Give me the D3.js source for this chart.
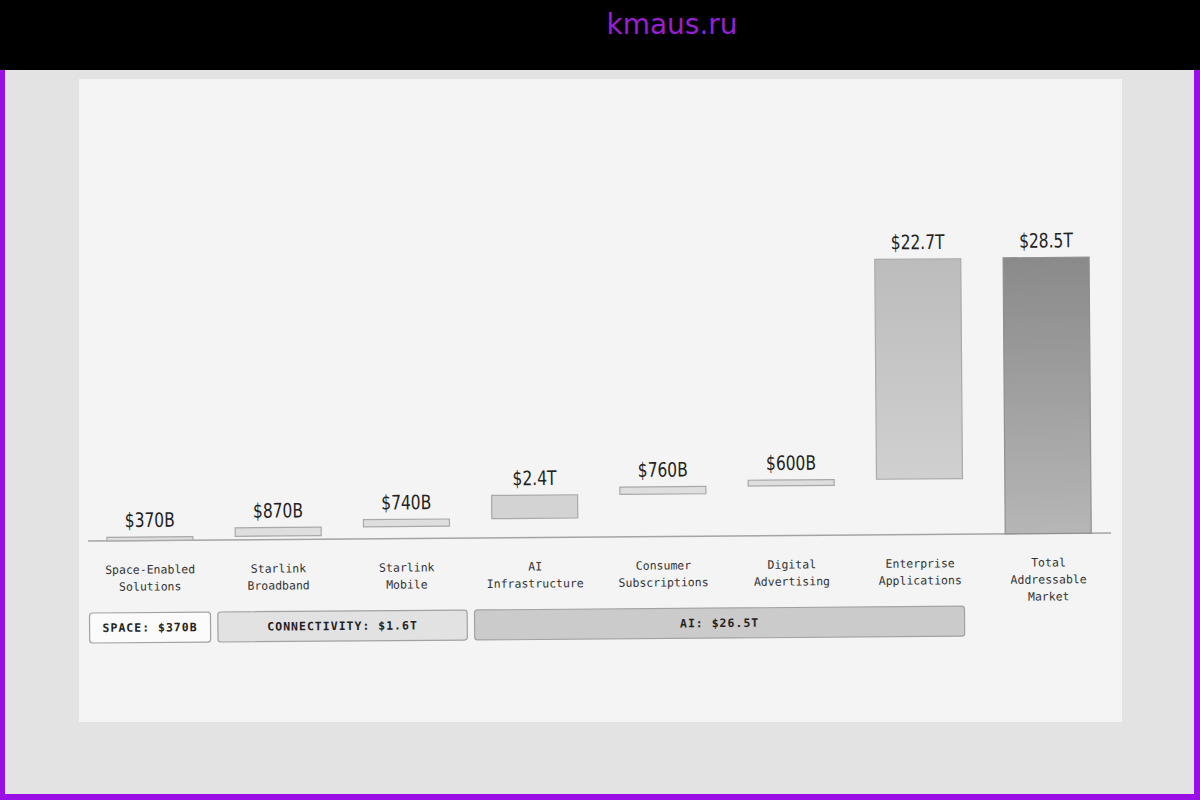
<!DOCTYPE html>
<html>
<head>
<meta charset="utf-8">
<script src="https://cdn.jsdelivr.net/npm/d3@7"></script>
<style>
html,body{margin:0;padding:0;background:#000;}
svg{display:block;}
</style>
</head>
<body>
<svg id="chart" width="1200" height="800"></svg>
<script>
// ---------- data ----------
const categories=[
    ["Space-Enabled","Solutions"],
    ["Starlink","Broadband"],
    ["Starlink","Mobile"],
    ["AI","Infrastructure"],
    ["Consumer","Subscriptions"],
    ["Digital","Advertising"],
    ["Enterprise","Applications"],
    ["Total","Addressable","Market"]
];
const values=[370,870,740,2400,760,600,22700,28500];   // $B
const valueLabels=["$370B","$870B","$740B","$2.4T","$760B","$600B","$22.7T","$28.5T"];
const groupNames=["SPACE: $370B","CONNECTIVITY: $1.6T","AI: $26.5T"];
const groupSpans=[[0,0],[1,2],[3,6]];

const svg=d3.select("#chart");
const W=1200,H=800;

// ---------- frame ----------
svg.append("rect").attr("width",W).attr("height",H).attr("fill","#000");
svg.append("rect").attr("x",0).attr("y",70).attr("width",W).attr("height",730).attr("fill","#9a0fe6");
svg.append("rect").attr("x",5).attr("y",70).attr("width",1189).attr("height",724).attr("fill","#e3e3e3");
svg.append("rect").attr("x",79).attr("y",79).attr("width",1043).attr("height",643).attr("fill","#f4f4f4");
svg.append("text")
    .attr("x",672).attr("y",34)
    .attr("text-anchor","middle")
    .attr("font-family","DejaVu Sans, sans-serif")
    .attr("font-size",28)
    .attr("fill","#9a1fd4")
    .text("kmaus.ru");

// ---------- scales ----------
const x=d3.scaleBand()
    .domain(d3.range(categories.length))
    .range([84,1112])
    .paddingInner(0.33)
    .paddingOuter(0.17);
const y=d3.scaleLinear()
    .domain([0,28500])
    .range([537,261]);

// waterfall: running starts, last bar is total from zero
const starts=[];
let acc=0;
values.forEach((v,i)=>{
    if(i===values.length-1){starts.push(0);}
    else{starts.push(acc);acc+=v;}
});

const g=svg.append("g").attr("transform","rotate(-0.45,600,400)");

const defs=svg.append("defs");
const gEnt=defs.append("linearGradient").attr("id","gEnt").attr("x1",0).attr("y1",0).attr("x2",0).attr("y2",1);
gEnt.append("stop").attr("offset","0%").attr("stop-color","#bcbcbc");
gEnt.append("stop").attr("offset","100%").attr("stop-color","#d0d0d0");
const gTot=defs.append("linearGradient").attr("id","gTot").attr("x1",0).attr("y1",0).attr("x2",0).attr("y2",1);
gTot.append("stop").attr("offset","0%").attr("stop-color","#8a8a8a");
gTot.append("stop").attr("offset","100%").attr("stop-color","#b6b6b6");

// ---------- baseline ----------
g.append("line")
    .attr("x1",87).attr("x2",1110)
    .attr("y1",y(0)).attr("y2",y(0))
    .attr("stroke","#a4a4a4").attr("stroke-width",1.5);

// ---------- bars ----------
const barFill=i=>i===7?"url(#gTot)":i===6?"url(#gEnt)":i===3?"#d3d3d3":"#dedede";
g.selectAll(".bar")
    .data(values)
    .join("rect")
    .attr("class","bar")
    .attr("x",(d,i)=>x(i))
    .attr("width",x.bandwidth())
    .attr("y",(d,i)=>y(starts[i]+d))
    .attr("height",(d,i)=>y(starts[i])-y(starts[i]+d))
    .attr("fill",(d,i)=>barFill(i))
    .attr("stroke",(d,i)=>i===7?"#909090":"#a9a9a9")
    .attr("stroke-width",1.2);

// value labels (condensed look)
g.selectAll(".val")
    .data(values)
    .join("text")
    .attr("class","val")
    .attr("transform",(d,i)=>`translate(${x(i)+x.bandwidth()/2},${y(starts[i]+d)-10}) scale(0.86,1)`)
    .attr("text-anchor","middle")
    .attr("font-family","DejaVu Sans Condensed, DejaVu Sans, sans-serif")
    .attr("font-size",20)
    .attr("fill","#222")
    .text((d,i)=>valueLabels[i]);

// category labels
categories.forEach((lines,i)=>{
    const t=g.append("text")
        .attr("x",x(i)+x.bandwidth()/2)
        .attr("y",570)
        .attr("text-anchor","middle")
        .attr("font-family","DejaVu Sans Mono, monospace")
        .attr("font-size",11.5)
        .attr("fill","#333");
    lines.forEach((ln,j)=>{
        t.append("tspan")
            .attr("x",x(i)+x.bandwidth()/2)
            .attr("dy",j===0?0:17)
            .text(ln);
    });
});

// ---------- group boxes ----------
const boxFill=["#fbfbfb","#e2e2e2","#cbcbcb"];
groupSpans.forEach((s,i)=>{
    const x0=x(s[0])-18;
    const x1=x(s[1])+x.bandwidth()+(i===groupSpans.length-1?1:17);
    g.append("rect")
        .attr("x",x0).attr("y",609)
        .attr("width",x1-x0).attr("height",30)
        .attr("rx",3)
        .attr("fill",boxFill[i])
        .attr("stroke","#a2a2a2")
        .attr("stroke-width",1.2);
    g.append("text")
        .attr("x",(x0+x1)/2).attr("y",628)
        .attr("text-anchor","middle")
        .attr("font-family","DejaVu Sans Mono, monospace")
        .attr("font-weight","bold")
        .attr("font-size",11.5)
        .attr("letter-spacing",1)
        .attr("fill","#222")
        .text(groupNames[i]);
});
</script>
</body>
</html>
